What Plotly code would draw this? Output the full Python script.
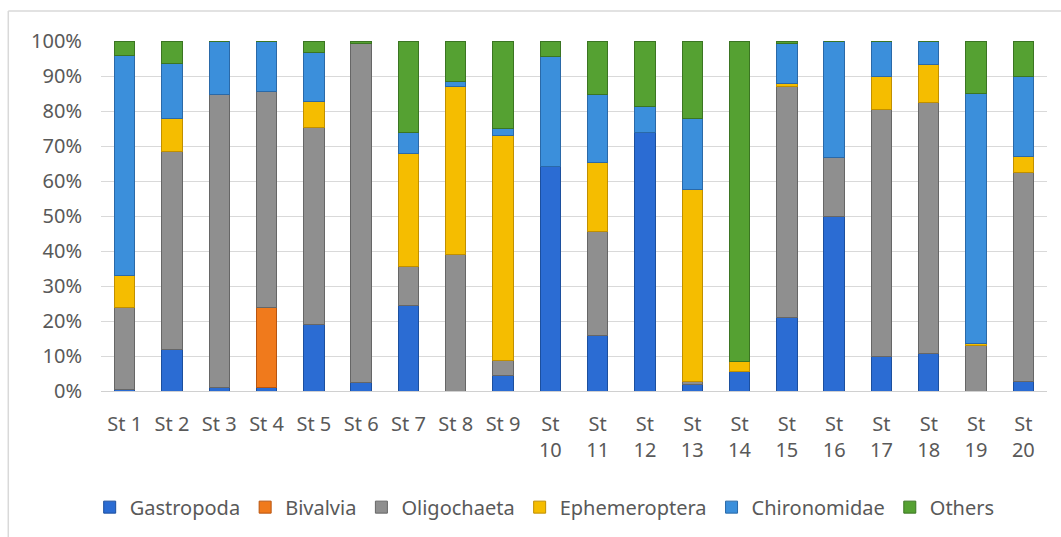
import plotly.graph_objects as go

stations = [f"St {i}" if i < 10 else f"St<br>{i}" for i in range(1, 21)]

gastropoda = [0.5, 12, 1, 1, 19, 2.3, 24.4, 0, 4.5, 64.2, 16, 73.9, 2, 5.6, 21, 50, 9.9, 10.8, 0, 2.8]
bivalvia = [0, 0, 0, 23, 0, 0, 0, 0, 0, 0, 0, 0, 0, 0, 0, 0, 0, 0, 0, 0]
oligochaeta = [23.5, 56.5, 83.7, 61.5, 56.3, 97.1, 11.1, 39, 4.3, 0, 29.7, 0, 0.6, 0, 66, 16.8, 70.5, 71.6, 13, 59.7]
ephemeroptera = [9, 9.5, 0, 0, 7.4, 0, 32.5, 48, 64.2, 0, 19.6, 0, 55.1, 2.9, 0.8, 0, 9.6, 10.8, 0.6, 4.5]
chironomidae = [63, 15.6, 15.3, 14.5, 13.9, 0, 6, 1.4, 2, 31.3, 19.4, 7.4, 20.1, 0, 11.6, 33.2, 10, 6.8, 71.4, 22.8]
others = [4, 6.4, 0, 0, 3.4, 0.6, 26, 11.6, 25, 4.5, 15.3, 18.7, 22.2, 91.5, 0.6, 0, 0, 0, 15, 10.2]

y_tickvals = [0, 10, 20, 30, 40, 50, 60, 70, 80, 90, 100]
y_ticktext = ["0%", "10%", "20%", "30%", "40%", "50%", "60%", "70%", "80%", "90%", "100%"]

series = [
    ("Gastropoda", gastropoda, "#2b6cd3", "#1c4f9e"),
    ("Bivalvia", bivalvia, "#f07a1c", "#b85510"),
    ("Oligochaeta", oligochaeta, "#8f8f8f", "#666666"),
    ("Ephemeroptera", ephemeroptera, "#f5bd00", "#c08f00"),
    ("Chironomidae", chironomidae, "#3b8fdb", "#2a69a8"),
    ("Others", others, "#55a132", "#3b7522"),
]

fig = go.Figure()
for name, vals, col, edge in series:
    fig.add_trace(go.Bar(
        x=stations, y=vals, name=name,
        marker=dict(color=col, line=dict(color=edge, width=1)),
    ))

font_family = "Noto Sans, Open Sans, sans-serif"
fig.update_layout(
    barmode="stack",
    barnorm="percent",
    bargap=0.57,
    width=1061, height=537,
    margin=dict(l=101, r=14, t=41, b=145),
    paper_bgcolor="white",
    plot_bgcolor="white",
    font=dict(family=font_family, size=20, color="#595959"),
    showlegend=True,
    legend=dict(orientation="h", x=0.469, xanchor="center", y=-0.328, yanchor="middle",
                font=dict(size=20, color="#595959"), traceorder="normal"),
    xaxis=dict(showgrid=False, tickfont=dict(size=20, color="#595959"),
               showline=True, linecolor="#d0d0d0", linewidth=1, ticks="",
               ticklabelstandoff=15),
    yaxis=dict(range=[0, 100], tickvals=y_tickvals, ticktext=y_ticktext,
               showgrid=True, gridcolor="#d9d9d9", gridwidth=1,
               zeroline=False, tickfont=dict(size=20, color="#595959"), ticklabelstandoff=18),
    shapes=[
        dict(type="line", xref="paper", yref="paper", x0=-0.098, x1=1.02, y0=1.0855, y1=1.0855,
             line=dict(color="#d9d9d9", width=1.5)),
        dict(type="line", xref="paper", yref="paper", x0=-0.098, x1=-0.098, y0=-0.42, y1=1.0855,
             line=dict(color="#d9d9d9", width=1.5)),
    ],
)

fig.write_html("out.html", config={"displayModeBar": False},
               post_script="document.body.style.margin='0px';")
